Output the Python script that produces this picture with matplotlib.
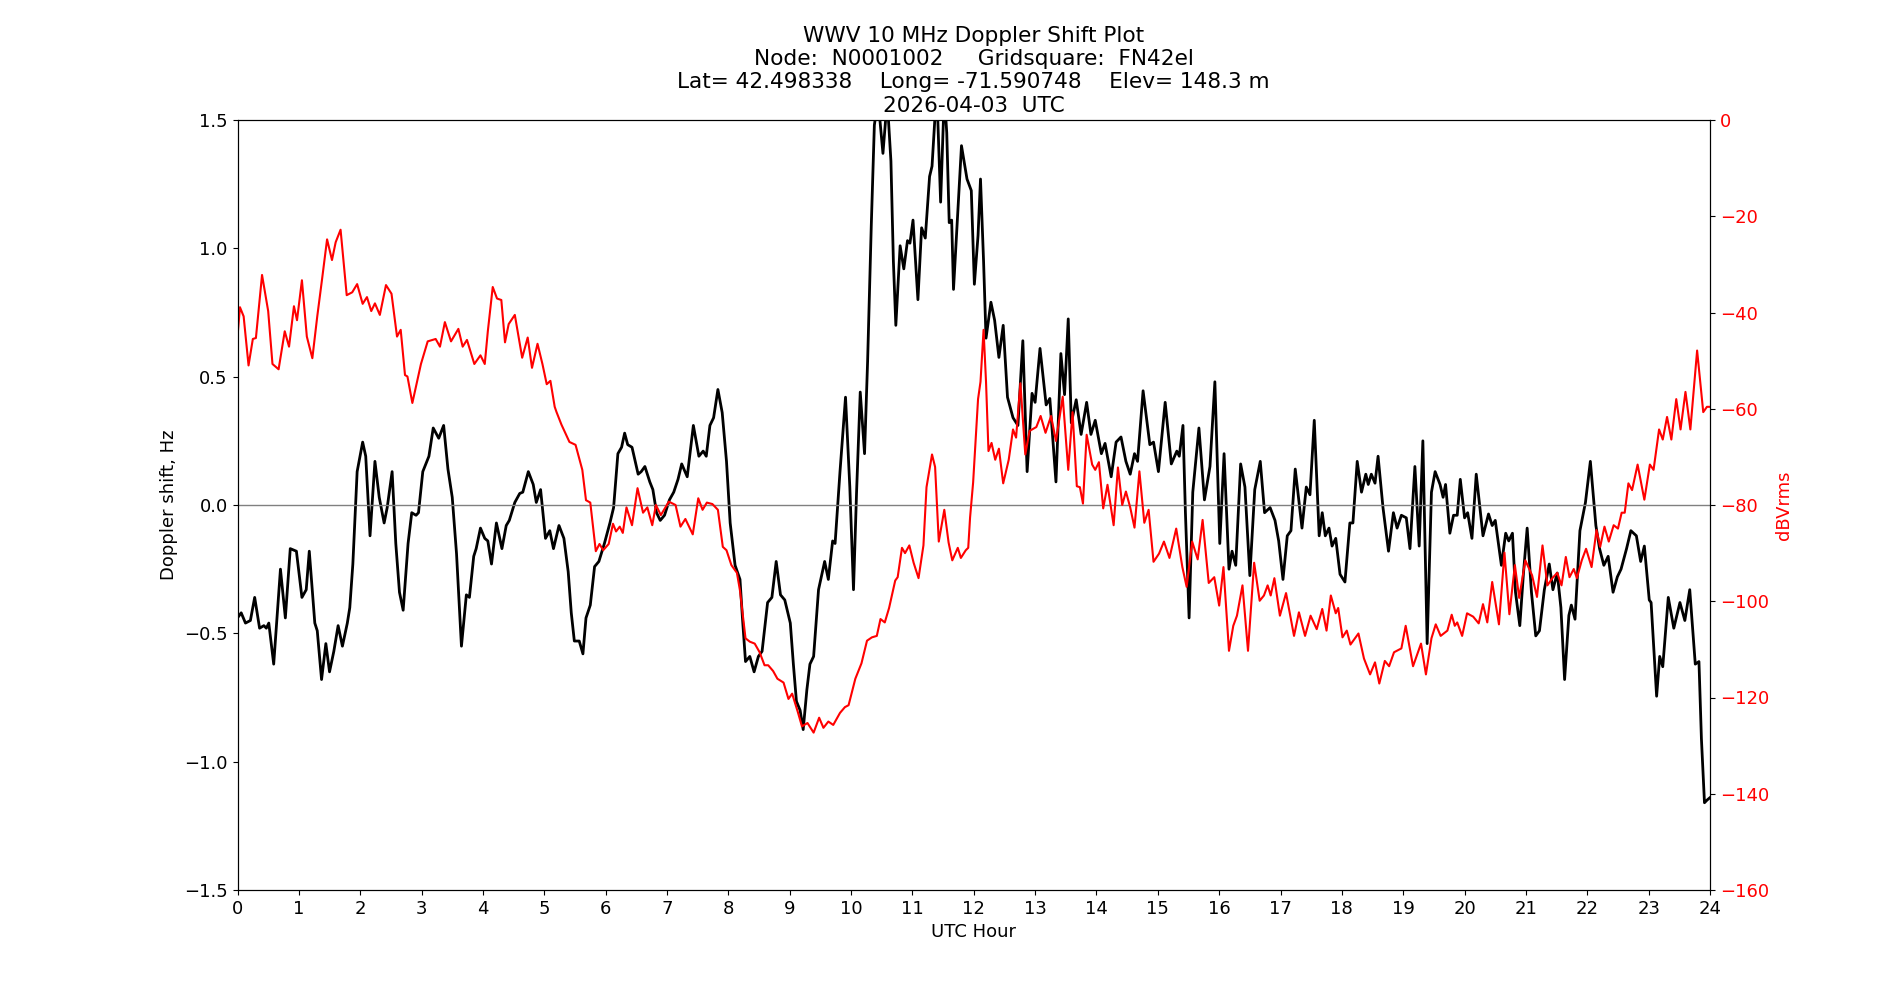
import numpy as np
import matplotlib
matplotlib.use('Agg')
import matplotlib.pyplot as plt

# Doppler shift (Hz), time in UTC hours
doppler_hours = [
    0.00, 0.06, 0.13, 0.21, 0.28, 0.36, 0.43, 0.47, 0.51, 0.59, 0.70, 0.78, 0.86, 0.96,
    1.05, 1.12, 1.17, 1.26, 1.30, 1.37, 1.44, 1.50, 1.57, 1.64, 1.71, 1.79, 1.83, 1.88,
    1.95, 2.04, 2.09, 2.16, 2.24, 2.31, 2.39, 2.44, 2.52, 2.58, 2.64, 2.70, 2.78, 2.84,
    2.91, 2.95, 3.02, 3.12, 3.19, 3.28, 3.36, 3.43, 3.50, 3.57, 3.65, 3.73, 3.78, 3.85,
    3.89, 3.96, 4.03, 4.08, 4.14, 4.22, 4.31, 4.38, 4.43, 4.52, 4.60, 4.65, 4.74, 4.82,
    4.87, 4.94, 5.02, 5.09, 5.15, 5.24, 5.32, 5.39, 5.44, 5.49, 5.57, 5.63, 5.68, 5.75,
    5.82, 5.89, 5.98, 6.07, 6.13, 6.20, 6.26, 6.31, 6.36, 6.43, 6.53, 6.58, 6.64, 6.72,
    6.77, 6.83, 6.89, 6.96, 7.04, 7.11, 7.18, 7.24, 7.33, 7.43, 7.52, 7.59, 7.64, 7.70,
    7.76, 7.83, 7.90, 7.97, 8.03, 8.11, 8.19, 8.23, 8.28, 8.35, 8.42, 8.49, 8.55, 8.64,
    8.71, 8.78, 8.85, 8.92, 9.01, 9.06, 9.11, 9.17, 9.22, 9.28, 9.33, 9.39, 9.47, 9.57,
    9.63, 9.70, 9.74, 9.82, 9.91, 9.98, 10.04, 10.09, 10.15, 10.22, 10.27, 10.33, 10.38,
    10.44, 10.52, 10.59, 10.65, 10.69, 10.73, 10.80, 10.86, 10.92, 10.96, 11.01, 11.09,
    11.15, 11.21, 11.28, 11.32, 11.37, 11.40, 11.46, 11.52, 11.56, 11.60, 11.64, 11.67,
    11.80, 11.89, 11.96, 12.01, 12.07, 12.11, 12.16, 12.20, 12.28, 12.34, 12.41, 12.48,
    12.55, 12.64, 12.72, 12.80, 12.87, 12.95, 13.00, 13.08, 13.18, 13.24, 13.34, 13.42,
    13.48, 13.54, 13.59, 13.67, 13.75, 13.84, 13.91, 13.98, 14.08, 14.14, 14.24, 14.32,
    14.40, 14.48, 14.55, 14.62, 14.67, 14.76, 14.87, 14.93, 15.01, 15.12, 15.22, 15.31,
    15.35, 15.41, 15.45, 15.51, 15.57, 15.67, 15.76, 15.85, 15.93, 16.01, 16.08, 16.16,
    16.21, 16.27, 16.35, 16.42, 16.50, 16.58, 16.67, 16.74, 16.83, 16.91, 16.97, 17.04,
    17.11, 17.17, 17.24, 17.35, 17.42, 17.48, 17.55, 17.63, 17.68, 17.73, 17.79, 17.84,
    17.90, 17.97, 18.05, 18.13, 18.18, 18.25, 18.32, 18.39, 18.43, 18.48, 18.54, 18.59,
    18.67, 18.76, 18.84, 18.90, 18.97, 19.05, 19.11, 19.19, 19.26, 19.32, 19.39, 19.46,
    19.52, 19.60, 19.65, 19.69, 19.76, 19.82, 19.88, 19.93, 20.00, 20.05, 20.12, 20.19,
    20.30, 20.39, 20.45, 20.50, 20.60, 20.67, 20.72, 20.78, 20.83, 20.90, 20.96, 21.02,
    21.09, 21.16, 21.22, 21.30, 21.38, 21.44, 21.51, 21.57, 21.63, 21.70, 21.74, 21.80,
    21.88, 21.97, 22.05, 22.14, 22.20, 22.27, 22.34, 22.42, 22.49, 22.55, 22.64, 22.71,
    22.80, 22.87, 22.93, 23.01, 23.04, 23.13, 23.18, 23.23, 23.32, 23.41, 23.51, 23.59,
    23.67, 23.76, 23.82, 23.86, 23.91, 23.95, 24.00,
]
doppler_hz = [
    -0.44, -0.42, -0.46, -0.45, -0.36, -0.48, -0.47, -0.48, -0.46, -0.62, -0.25, -0.44, -0.17, -0.18,
    -0.36, -0.33, -0.18, -0.46, -0.49, -0.68, -0.54, -0.65, -0.57, -0.47, -0.55, -0.46, -0.40, -0.23,
    0.13, 0.245, 0.19, -0.12, 0.17, 0.03, -0.07, -0.01, 0.13, -0.15, -0.34, -0.41, -0.15, -0.03,
    -0.04, -0.03, 0.13, 0.19, 0.30, 0.26, 0.31, 0.14, 0.03, -0.19, -0.55, -0.35, -0.36, -0.20,
    -0.17, -0.09, -0.13, -0.14, -0.23, -0.07, -0.17, -0.08, -0.06, 0.01, 0.045, 0.05, 0.13, 0.08,
    0.01, 0.06, -0.13, -0.10, -0.17, -0.08, -0.13, -0.26, -0.42, -0.53, -0.53, -0.58, -0.44, -0.39,
    -0.24, -0.22, -0.15, -0.07, -0.01, 0.20, 0.225, 0.28, 0.235, 0.225, 0.12, 0.13, 0.15, 0.09,
    0.06, -0.03, -0.06, -0.04, 0.02, 0.05, 0.10, 0.16, 0.11, 0.31, 0.19, 0.21, 0.19, 0.31,
    0.34, 0.45, 0.36, 0.17, -0.07, -0.235, -0.29, -0.44, -0.61, -0.59, -0.65, -0.59, -0.57, -0.38,
    -0.36, -0.22, -0.35, -0.37, -0.46, -0.62, -0.765, -0.80, -0.875, -0.72, -0.62, -0.59, -0.33, -0.22,
    -0.29, -0.14, -0.15, 0.13, 0.42, 0.07, -0.33, 0.05, 0.44, 0.20, 0.56, 1.09, 1.48,
    1.58, 1.37, 1.58, 1.34, 0.95, 0.70, 1.01, 0.92, 1.03, 1.02, 1.11, 0.80,
    1.08, 1.04, 1.28, 1.32, 1.52, 1.60, 1.18, 1.60, 1.45, 1.10, 1.11, 0.84,
    1.40, 1.27, 1.225, 0.86, 1.05, 1.27, 0.95, 0.65, 0.79, 0.72, 0.575, 0.70,
    0.42, 0.34, 0.31, 0.64, 0.13, 0.435, 0.40, 0.61, 0.39, 0.415, 0.09, 0.59,
    0.43, 0.725, 0.32, 0.41, 0.275, 0.40, 0.275, 0.33, 0.20, 0.24, 0.11, 0.245,
    0.265, 0.17, 0.12, 0.20, 0.17, 0.445, 0.235, 0.245, 0.13, 0.40, 0.16, 0.21,
    0.19, 0.31, -0.03, -0.44, 0.05, 0.30, 0.02, 0.15, 0.48, -0.15, 0.20, -0.25,
    -0.18, -0.235, 0.16, 0.07, -0.275, 0.06, 0.17, -0.03, -0.01, -0.06, -0.14, -0.29,
    -0.12, -0.10, 0.14, -0.09, 0.07, 0.04, 0.33, -0.12, -0.03, -0.12, -0.09, -0.16,
    -0.13, -0.27, -0.30, -0.07, -0.07, 0.17, 0.05, 0.12, 0.08, 0.12, 0.085, 0.19,
    -0.01, -0.18, -0.03, -0.09, -0.04, -0.05, -0.17, 0.15, -0.16, 0.25, -0.54, 0.05,
    0.13, 0.08, 0.03, 0.08, -0.11, -0.04, -0.04, 0.10, -0.05, -0.03, -0.13, 0.12,
    -0.12, -0.035, -0.08, -0.06, -0.235, -0.11, -0.14, -0.11, -0.34, -0.47, -0.265, -0.09,
    -0.34, -0.51, -0.49, -0.33, -0.23, -0.33, -0.265, -0.40, -0.68, -0.43, -0.39, -0.445,
    -0.10, 0.01, 0.17, -0.08, -0.17, -0.235, -0.20, -0.34, -0.28, -0.25, -0.17, -0.10,
    -0.12, -0.22, -0.16, -0.37, -0.38, -0.745, -0.59, -0.63, -0.36, -0.48, -0.38, -0.45,
    -0.33, -0.62, -0.61, -0.91, -1.16, -1.15, -1.14,
]

# Received signal level (dBVrms)
power_hours = [
    0.00, 0.04, 0.10, 0.18, 0.25, 0.30, 0.40, 0.50, 0.57, 0.67, 0.77, 0.84, 0.92, 0.97,
    1.05, 1.13, 1.22, 1.30, 1.38, 1.46, 1.54, 1.60, 1.68, 1.78, 1.87, 1.95, 2.04, 2.11,
    2.18, 2.24, 2.32, 2.42, 2.51, 2.60, 2.66, 2.73, 2.77, 2.85, 2.99, 3.10, 3.23, 3.30,
    3.38, 3.48, 3.60, 3.67, 3.74, 3.86, 3.96, 4.03, 4.08, 4.16, 4.23, 4.30, 4.36, 4.42,
    4.52, 4.64, 4.73, 4.80, 4.89, 4.97, 5.04, 5.10, 5.17, 5.20, 5.28, 5.41, 5.51, 5.62,
    5.68, 5.75, 5.84, 5.90, 5.96, 6.05, 6.12, 6.17, 6.23, 6.28, 6.34, 6.43, 6.52, 6.61,
    6.68, 6.76, 6.82, 6.90, 7.03, 7.14, 7.22, 7.30, 7.42, 7.51, 7.58, 7.65, 7.74, 7.83,
    7.91, 7.97, 8.05, 8.14, 8.19, 8.28, 8.35, 8.43, 8.51, 8.59, 8.65, 8.73, 8.80, 8.90,
    8.98, 9.04, 9.13, 9.20, 9.29, 9.39, 9.48, 9.55, 9.63, 9.71, 9.82, 9.90, 9.96, 10.07,
    10.17, 10.26, 10.34, 10.42, 10.48, 10.55, 10.62, 10.72, 10.76, 10.83, 10.88, 10.95,
    11.02, 11.10, 11.18, 11.23, 11.32, 11.37, 11.43, 11.52, 11.59, 11.65, 11.74, 11.79,
    11.87, 11.91, 11.94, 11.99, 12.07, 12.11, 12.16, 12.20, 12.24, 12.29, 12.35, 12.41,
    12.48, 12.57, 12.64, 12.69, 12.76, 12.84, 12.91, 13.02, 13.09, 13.17, 13.26, 13.34,
    13.45, 13.54, 13.61, 13.68, 13.73, 13.78, 13.84, 13.93, 13.98, 14.04, 14.11, 14.18,
    14.28, 14.35, 14.42, 14.48, 14.55, 14.62, 14.70, 14.78, 14.85, 14.93, 15.02, 15.10,
    15.19, 15.30, 15.40, 15.47, 15.56, 15.65, 15.73, 15.83, 15.92, 16.00, 16.07, 16.16,
    16.23, 16.29, 16.38, 16.47, 16.57, 16.66, 16.73, 16.79, 16.84, 16.90, 16.99, 17.09,
    17.22, 17.30, 17.40, 17.49, 17.59, 17.68, 17.75, 17.82, 17.90, 17.94, 18.01, 18.08,
    18.14, 18.27, 18.36, 18.46, 18.54, 18.61, 18.70, 18.77, 18.85, 18.97, 19.04, 19.16,
    19.29, 19.37, 19.46, 19.53, 19.61, 19.72, 19.79, 19.84, 19.88, 19.96, 20.04, 20.14,
    20.23, 20.30, 20.37, 20.45, 20.56, 20.65, 20.73, 20.82, 20.89, 20.99, 21.10, 21.18,
    21.27, 21.35, 21.43, 21.51, 21.58, 21.65, 21.71, 21.78, 21.83, 21.91, 21.98, 22.07,
    22.15, 22.21, 22.28, 22.35, 22.43, 22.50, 22.56, 22.61, 22.67, 22.73, 22.82, 22.93,
    23.02, 23.08, 23.17, 23.23, 23.30, 23.37, 23.45, 23.52, 23.60, 23.68, 23.79, 23.89,
    23.95, 24.00,
]
power_dbv = [
    -45.0, -38.9, -40.8, -51.0, -45.5, -45.3, -32.2, -39.7, -50.7, -51.8, -43.9, -47.1, -38.7, -41.6,
    -33.3, -45.0, -49.5, -40.8, -32.9, -24.8, -29.1, -25.4, -22.8, -36.4, -35.8, -34.1, -38.2, -36.8,
    -39.7, -38.1, -40.5, -34.3, -36.1, -45.0, -43.6, -53.0, -53.3, -58.8, -50.7, -46.0, -45.5, -47.1,
    -42.0, -46.0, -43.4, -47.1, -45.7, -50.7, -48.9, -50.7, -43.9, -34.7, -37.1, -37.4, -46.2, -42.4,
    -40.5, -49.4, -45.2, -51.5, -46.5, -50.7, -54.9, -54.2, -59.6, -60.7, -63.3, -66.9, -67.5, -72.7,
    -79.0, -79.5, -89.6, -88.1, -89.4, -88.1, -83.9, -85.5, -84.5, -85.8, -80.5, -84.2, -76.5, -81.6,
    -80.5, -84.2, -80.0, -82.1, -79.3, -80.0, -84.5, -82.9, -86.1, -78.6, -81.0, -79.5, -79.8, -81.0,
    -88.7, -89.4, -92.5, -94.1, -97.8, -107.7, -108.4, -108.8, -110.6, -113.3, -113.3, -114.5, -116.1, -116.9,
    -120.3, -119.2, -122.9, -126.0, -125.3, -127.3, -124.2, -126.3, -125.0, -125.7, -123.2, -122.0, -121.6, -116.1,
    -112.9, -108.2, -107.5, -107.2, -103.7, -104.4, -101.4, -95.7, -95.0, -88.9, -90.0, -88.4,
    -92.0, -95.2, -88.4, -76.3, -69.5, -72.1, -87.6, -81.0, -87.8, -91.5, -88.9, -91.0,
    -89.4, -88.9, -82.6, -75.3, -58.0, -54.4, -43.6, -54.4, -68.8, -67.1, -70.6, -68.3,
    -75.5, -70.6, -64.3, -66.0, -54.7, -69.5, -64.6, -63.8, -61.5, -65.0, -61.5, -66.7,
    -57.5, -72.7, -60.7, -76.1, -76.3, -79.7, -65.4, -71.6, -72.7, -71.1, -80.7, -75.8,
    -84.2, -72.2, -80.0, -77.2, -80.5, -84.7, -73.0, -83.7, -81.0, -91.8, -90.1, -87.6,
    -91.0, -84.9, -92.9, -97.0, -87.6, -91.3, -83.1, -96.2, -95.0, -100.9, -92.9, -110.3,
    -105.1, -103.0, -96.7, -110.3, -92.0, -99.9, -98.8, -96.7, -98.8, -95.2, -103.0, -98.3,
    -107.2, -102.3, -107.2, -103.0, -105.8, -101.6, -106.1, -98.8, -102.5, -101.4, -107.5, -106.1,
    -109.0, -106.7, -111.9, -115.2, -112.7, -117.1, -112.4, -113.5, -110.6, -109.8, -105.1, -113.5,
    -108.8, -115.2, -107.7, -104.8, -107.2, -106.1, -102.8, -105.1, -104.4, -107.2, -102.5, -103.2,
    -104.6, -100.6, -104.4, -96.0, -104.8, -89.9, -102.7, -92.5, -99.3, -91.5, -94.6, -99.1,
    -88.4, -96.7, -95.2, -94.1, -96.7, -90.8, -95.0, -93.3, -95.2, -91.5, -89.1, -92.9,
    -85.2, -88.7, -84.5, -87.6, -84.2, -84.9, -81.6, -81.6, -75.5, -76.9, -71.6, -78.9,
    -71.6, -72.7, -64.3, -66.4, -61.7, -66.4, -58.0, -64.3, -56.5, -64.3, -47.9, -60.7,
    -59.6, -59.6,
]

title_lines = [
    'WWV 10 MHz Doppler Shift Plot',
    'Node:  N0001002     Gridsquare:  FN42el',
    'Lat= 42.498338    Long= -71.590748    Elev= 148.3 m',
    '2026-04-03  UTC',
]

plt.rcParams['font.size'] = 13

fig = plt.figure(figsize=(19, 10), dpi=100)
ax = fig.add_subplot(111)

# Doppler trace on the left axis
ax.plot(doppler_hours, doppler_hz, color='black', linewidth=2)
ax.axhline(0, color='grey', linewidth=1)
ax.set_xlim(0, 24)
ax.set_ylim(-1.5, 1.5)
ax.set_xticks(np.arange(0, 25, 1))
ax.set_xlabel('UTC Hour')
ax.set_ylabel('Doppler shift, Hz')
ax.set_title('\n'.join(title_lines))

# Signal power on the right axis
ax2 = ax.twinx()
ax2.plot(power_hours, power_dbv, color='red', linewidth=1.5)
ax2.set_ylim(-160, 0)
ax2.set_ylabel('dBVrms', color='red')
ax2.tick_params(axis='y', labelcolor='red')

fig.savefig('out.png', dpi=100)
